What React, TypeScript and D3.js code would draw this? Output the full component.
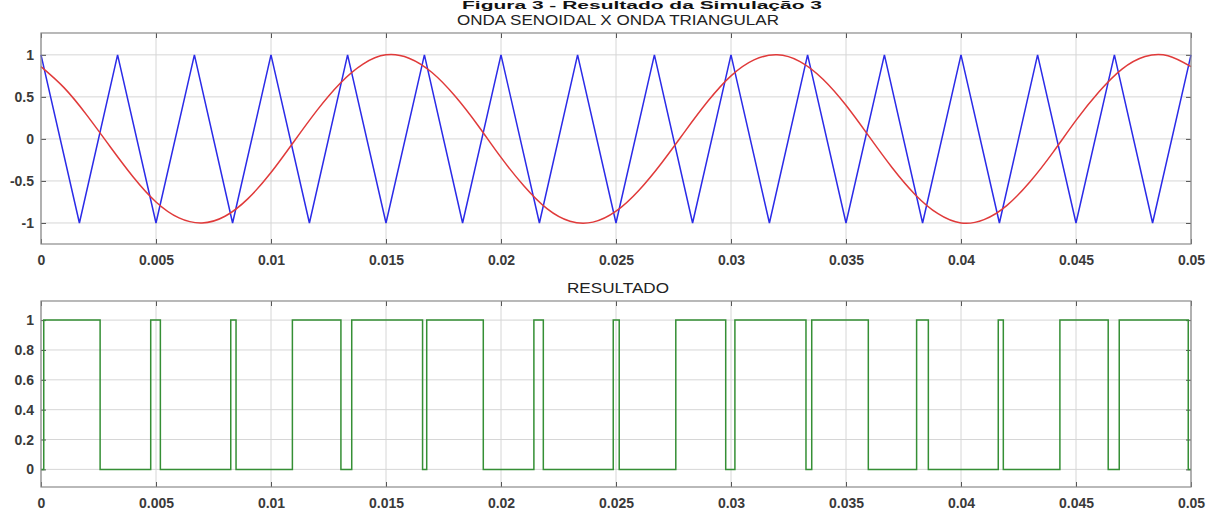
import { useEffect, useRef } from "react";
import * as d3 from "d3";

// time axis (s)
const xTicks = [0, 0.005, 0.01, 0.015, 0.02, 0.025, 0.03, 0.035, 0.04, 0.045, 0.05];
const xTickLabels = ["0", "0.005", "0.01", "0.015", "0.02", "0.025", "0.03", "0.035", "0.04", "0.045", "0.05"];

// top plot ticks
const topYTicks = [-1, -0.5, 0, 0.5, 1];
const topYLabels = ["-1", "-0.5", "0", "0.5", "1"];

// bottom plot ticks
const botYTicks = [0, 0.2, 0.4, 0.6, 0.8, 1];
const botYLabels = ["0", "0.2", "0.4", "0.6", "0.8", "1"];

// sine wave, read every 1 ms
const sineTimes = [
  0, 0.001, 0.002, 0.003, 0.004, 0.005, 0.006, 0.007, 0.008, 0.009,
  0.01, 0.011, 0.012, 0.013, 0.014, 0.015, 0.016, 0.017, 0.018, 0.019,
  0.02, 0.021, 0.022, 0.023, 0.024, 0.025, 0.026, 0.027, 0.028, 0.029,
  0.03, 0.031, 0.032, 0.033, 0.034, 0.035, 0.036, 0.037, 0.038, 0.039,
  0.04, 0.041, 0.042, 0.043, 0.044, 0.045, 0.046, 0.047, 0.048, 0.049, 0.05,
];
const sineValues = [
  0.86, 0.61, 0.28, -0.09, -0.45, -0.75, -0.94, -1.0, -0.92, -0.71,
  -0.4, -0.03, 0.34, 0.66, 0.89, 1.0, 0.96, 0.79, 0.51, 0.16,
  -0.22, -0.56, -0.83, -0.98, -0.99, -0.86, -0.61, -0.28, 0.09, 0.45,
  0.75, 0.94, 1.0, 0.92, 0.71, 0.4, 0.03, -0.34, -0.66, -0.89,
  -1.0, -0.96, -0.79, -0.51, -0.16, 0.22, 0.56, 0.83, 0.98, 0.99, 0.86,
];

// triangle carrier, its corner points
const triTimes = [
  0, 0.00167, 0.00333, 0.005, 0.00667, 0.00833, 0.01, 0.01167, 0.01333, 0.015,
  0.01667, 0.01833, 0.02, 0.02167, 0.02333, 0.025, 0.02667, 0.02833, 0.03, 0.03167,
  0.03333, 0.035, 0.03667, 0.03833, 0.04, 0.04167, 0.04333, 0.045, 0.04667, 0.04833, 0.05,
];
const triValues = [
  1, -1, 1, -1, 1, -1, 1, -1, 1, -1,
  1, -1, 1, -1, 1, -1, 1, -1, 1, -1,
  1, -1, 1, -1, 1, -1, 1, -1, 1, -1, 1,
];

// comparator output, switching instants
const resTimes = [
  0, 0.00012, 0.00257, 0.00477, 0.00519, 0.00825, 0.00848, 0.01093, 0.01304, 0.01351,
  0.01659, 0.01677, 0.01923, 0.02143, 0.02184, 0.02488, 0.02514, 0.0276, 0.02977, 0.03017,
  0.03326, 0.03351, 0.03597, 0.03807, 0.03858, 0.04162, 0.04184, 0.0443, 0.0464, 0.04688,
  0.04988, 0.05,
];
const resValues = [
  0, 1, 0, 1, 0, 1, 0, 1, 0, 1,
  0, 1, 0, 1, 0, 1, 0, 1, 0, 1,
  0, 1, 0, 1, 0, 1, 0, 1, 0, 1,
  0, 0,
];

const W = 1208;
const H = 511;
const FONT = "'Liberation Sans', Arial, sans-serif";

function drawPanel(svg, opts) {
  const { x, y, top, bottom, yTicks, yLabels, title, titleY, titleWidth } = opts;
  const left = x.range()[0];
  const right = x.range()[1];
  const g = svg.append("g");

  // grid
  g.append("g")
    .selectAll("line")
    .data(xTicks)
    .enter()
    .append("line")
    .attr("x1", (d) => x(d))
    .attr("x2", (d) => x(d))
    .attr("y1", top)
    .attr("y2", bottom)
    .attr("stroke", "#d6d6d6")
    .attr("stroke-width", 1);
  g.append("g")
    .selectAll("line")
    .data(yTicks)
    .enter()
    .append("line")
    .attr("x1", left)
    .attr("x2", right)
    .attr("y1", (d) => y(d))
    .attr("y2", (d) => y(d))
    .attr("stroke", "#d6d6d6")
    .attr("stroke-width", 1);

  // axes with inward ticks
  const xa = g
    .append("g")
    .attr("transform", `translate(0,${bottom})`)
    .call(
      d3
        .axisBottom(x)
        .tickValues(xTicks)
        .tickFormat((d, i) => xTickLabels[i])
        .tickSizeInner(-5)
        .tickSizeOuter(0)
        .tickPadding(11)
    );
  const xt = g
    .append("g")
    .attr("transform", `translate(0,${top})`)
    .call(d3.axisTop(x).tickValues(xTicks).tickFormat(() => "").tickSizeInner(-5).tickSizeOuter(0));
  const ya = g
    .append("g")
    .attr("transform", `translate(${left},0)`)
    .call(
      d3
        .axisLeft(y)
        .tickValues(yTicks)
        .tickFormat((d, i) => yLabels[i])
        .tickSizeInner(-5)
        .tickSizeOuter(0)
        .tickPadding(7)
    );
  const yr = g
    .append("g")
    .attr("transform", `translate(${right},0)`)
    .call(d3.axisRight(y).tickValues(yTicks).tickFormat(() => "").tickSizeInner(-5).tickSizeOuter(0));

  [xa, xt, ya, yr].forEach((a) => {
    a.select(".domain").remove();
    a.selectAll("line").attr("stroke", "#555");
    a.selectAll("text")
      .attr("fill", "#3a3a3a")
      .style("font-family", FONT)
      .style("font-size", "14px")
      .style("font-weight", "bold");
  });

  // title
  svg
    .append("text")
    .attr("x", (left + right) / 2 + 2)
    .attr("y", titleY)
    .attr("text-anchor", "middle")
    .attr("fill", "#222")
    .attr("textLength", titleWidth)
    .attr("lengthAdjust", "spacingAndGlyphs")
    .style("font-family", FONT)
    .style("font-size", "15px")
    .text(title);

  return g;
}

const App = () => {
  const ref = useRef(null);

  useEffect(() => {
    d3.select(ref.current).selectAll("*").remove();
    const svg = d3.select(ref.current);

    const x = d3.scaleLinear().domain([0, 0.05]).range([41, 1191]);

    // top panel
    const topY = d3.scaleLinear().domain([-1.25, 1.26]).range([244, 33]);
    drawPanel(svg, {
      x,
      y: topY,
      top: 33,
      bottom: 244,
      yTicks: topYTicks,
      yLabels: topYLabels,
      title: "ONDA SENOIDAL X ONDA TRIANGULAR",
      titleY: 25,
      titleWidth: 322,
    });

    const sine = sineTimes.map((t, i) => [t, sineValues[i]]);
    const tri = triTimes.map((t, i) => [t, triValues[i]]);

    svg
      .append("path")
      .datum(tri)
      .attr("fill", "none")
      .attr("stroke", "#2b2be8")
      .attr("stroke-width", 1.5)
      .attr("stroke-linejoin", "miter")
      .attr(
        "d",
        d3
          .line()
          .x((d) => x(d[0]))
          .y((d) => topY(d[1]))
      );

    svg
      .append("path")
      .datum(sine)
      .attr("fill", "none")
      .attr("stroke", "#e03a3a")
      .attr("stroke-width", 1.5)
      .attr(
        "d",
        d3
          .line()
          .curve(d3.curveNatural)
          .x((d) => x(d[0]))
          .y((d) => topY(d[1]))
      );

    // bottom panel
    const botY = d3.scaleLinear().domain([-0.118, 1.128]).range([487, 301]);
    drawPanel(svg, {
      x,
      y: botY,
      top: 301,
      bottom: 487,
      yTicks: botYTicks,
      yLabels: botYLabels,
      title: "RESULTADO",
      titleY: 293,
      titleWidth: 102,
    });

    const res = resTimes.map((t, i) => [t, resValues[i]]);
    svg
      .append("path")
      .datum(res)
      .attr("fill", "none")
      .attr("stroke", "#358f35")
      .attr("stroke-width", 1.5)
      .attr(
        "d",
        d3
          .line()
          .curve(d3.curveStepAfter)
          .x((d) => x(d[0]))
          .y((d) => botY(d[1]))
      );

    // axes boxes on top of everything
    [
      [33, 244],
      [301, 487],
    ].forEach(([t, b]) => {
      svg
        .append("rect")
        .attr("x", 41)
        .attr("y", t)
        .attr("width", 1150)
        .attr("height", b - t)
        .attr("fill", "none")
        .attr("stroke", "#8a8a8a")
        .attr("stroke-width", 1.2);
    });

    // figure caption at the very top
    svg
      .append("text")
      .attr("x", 642)
      .attr("y", 9)
      .attr("text-anchor", "middle")
      .attr("fill", "#111")
      .attr("textLength", 360)
      .attr("lengthAdjust", "spacingAndGlyphs")
      .style("font-family", FONT)
      .style("font-size", "11px")
      .style("font-weight", "bold")
      .text("Figura 3 - Resultado da Simulação 3");
  }, []);

  return (
    <svg
      ref={ref}
      width={W}
      height={H}
      style={{ position: "absolute", left: 0, top: 0, background: "#fff", overflow: "hidden" }}
    />
  );
};

export default App;
